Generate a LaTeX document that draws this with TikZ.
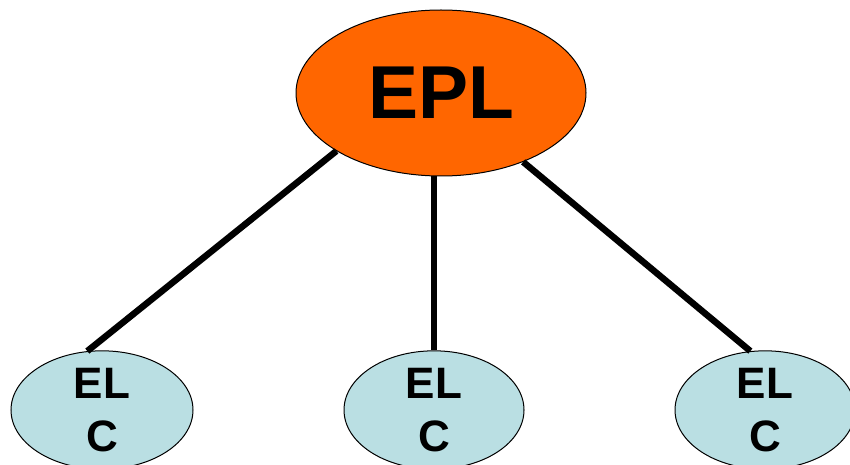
\documentclass[tikz,border=0pt]{standalone}
\usepackage{fontspec}
\setmainfont{Liberation Sans}
\usetikzlibrary{shapes.geometric}
\definecolor{eplorange}{RGB}{255,102,0}
\definecolor{elcblue}{RGB}{186,223,227}
\tikzset{
  league/.style={ellipse,draw=black,line width=1pt,inner sep=0pt,font=\bfseries},
  link/.style={line width=6.5pt}
}
\begin{document}
\begin{tikzpicture}[x=1pt,y=1pt]
\useasboundingbox (0,0) rectangle (850,464);
\node[league,fill=eplorange,minimum width=290pt,minimum height=166pt,font=\fontsize{75}{80}\bfseries\selectfont] (epl) at (441,371) {EPL};
\node[league,fill=elcblue,minimum width=182pt,minimum height=106pt,align=center,font=\fontsize{44}{53}\bfseries\selectfont] (elc1) at (102,54) {EL\\C};
\node[league,fill=elcblue,minimum width=180pt,minimum height=106pt,align=center,font=\fontsize{44}{53}\bfseries\selectfont] (elc2) at (434,54) {EL\\C};
\node[league,fill=elcblue,minimum width=180pt,minimum height=106pt,align=center,font=\fontsize{44}{53}\bfseries\selectfont] (elc3) at (765,54) {EL\\C};
\draw[link] (epl.209) -- (elc1.104);
\draw[link] (elc2.north |- epl.south) -- (elc2.north);
\draw[link] (epl.320) -- (elc3.104);
\end{tikzpicture}
\end{document}
